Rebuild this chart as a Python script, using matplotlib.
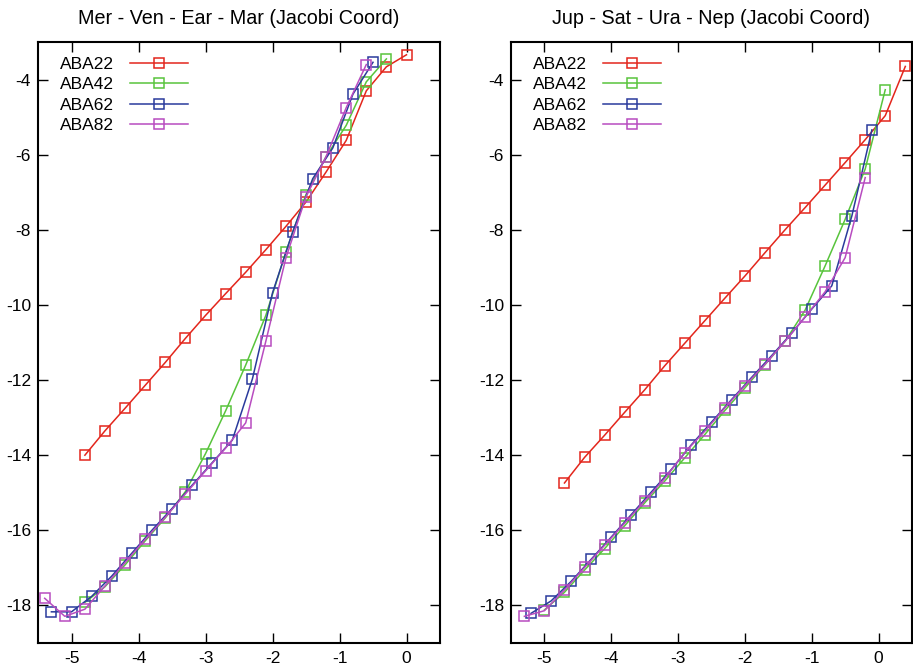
import matplotlib
matplotlib.use("Agg")
import matplotlib.pyplot as plt

plt.rcParams['font.family'] = ['Liberation Sans', 'DejaVu Sans']
plt.rcParams['axes.unicode_minus'] = False

# 左パネル: Mer - Ven - Ear - Mar
l_x22 = [-4.8, -4.5, -4.2, -3.9, -3.6, -3.3, -3.0, -2.7, -2.4, -2.1, -1.8, -1.5, -1.2, -0.9, -0.6, -0.3, 0.0]
l_y22 = [-14.0, -13.35, -12.75, -12.14, -11.53, -10.89, -10.28, -9.70, -9.13, -8.53, -7.91, -7.26, -6.46, -5.62, -4.30, -3.66, -3.34]
l_x42 = [-4.8, -4.5, -4.2, -3.9, -3.6, -3.3, -3.0, -2.7, -2.4, -2.1, -1.8, -1.5, -1.2, -0.9, -0.6, -0.3]
l_y42 = [-17.92, -17.5, -16.92, -16.28, -15.67, -14.97, -13.96, -12.82, -11.6, -10.28, -8.59, -7.06, -6.05, -5.22, -4.06, -3.45]
l_x62 = [-5.3, -5.0, -4.7, -4.4, -4.1, -3.8, -3.5, -3.2, -2.9, -2.6, -2.3, -2.0, -1.7, -1.4, -1.1, -0.8, -0.5]
l_y62 = [-18.17, -18.17, -17.76, -17.22, -16.61, -16.0, -15.42, -14.80, -14.20, -13.60, -11.97, -9.68, -8.06, -6.64, -5.82, -4.39, -3.54]
l_x82 = [-5.4, -5.1, -4.8, -4.5, -4.2, -3.9, -3.6, -3.3, -3.0, -2.7, -2.4, -2.1, -1.8, -1.5, -1.2, -0.9, -0.6]
l_y82 = [-17.81, -18.29, -18.10, -17.48, -16.86, -16.24, -15.65, -15.03, -14.42, -13.81, -13.14, -10.97, -8.75, -7.12, -6.05, -4.75, -3.6]

# 右パネル: Jup - Sat - Ura - Nep
r_x22 = [-4.7, -4.4, -4.1, -3.8, -3.5, -3.2, -2.9, -2.6, -2.3, -2.0, -1.7, -1.4, -1.1, -0.8, -0.5, -0.2, 0.1, 0.4]
r_y22 = [-14.74, -14.06, -13.47, -12.86, -12.26, -11.62, -11.02, -10.42, -9.82, -9.23, -8.61, -8.0, -7.41, -6.81, -6.21, -5.60, -4.96, -3.65]
r_x42 = [-5.0, -4.7, -4.4, -4.1, -3.8, -3.5, -3.2, -2.9, -2.6, -2.3, -2.0, -1.7, -1.4, -1.1, -0.8, -0.5, -0.2, 0.1]
r_y42 = [-18.12, -17.65, -17.06, -16.49, -15.88, -15.27, -14.69, -14.07, -13.45, -12.81, -12.21, -11.59, -10.97, -10.14, -8.96, -7.72, -6.38, -4.27]
r_x62 = [-5.2, -4.9, -4.6, -4.3, -4.0, -3.7, -3.4, -3.1, -2.8, -2.5, -2.2, -1.9, -1.6, -1.3, -1.0, -0.7, -0.4, -0.1]
r_y62 = [-18.21, -17.88, -17.36, -16.77, -16.18, -15.58, -14.98, -14.38, -13.72, -13.12, -12.52, -11.93, -11.35, -10.75, -10.11, -9.49, -7.63, -5.34]
r_x82 = [-5.3, -5.0, -4.7, -4.4, -4.1, -3.8, -3.5, -3.2, -2.9, -2.6, -2.3, -2.0, -1.7, -1.4, -1.1, -0.8, -0.5, -0.2]
r_y82 = [-18.29, -18.14, -17.59, -16.99, -16.40, -15.81, -15.22, -14.62, -13.93, -13.36, -12.74, -12.15, -11.58, -10.97, -10.32, -9.65, -8.74, -6.61]

labels = ["ABA22", "ABA42", "ABA62", "ABA82"]
colors = ["#e3261c", "#58c43c", "#2a3a9c", "#b84cc0"]
titles = ["Mer - Ven - Ear - Mar (Jacobi Coord)", "Jup - Sat - Ura - Nep (Jacobi Coord)"]

panels = [
    [(l_x22, l_y22), (l_x42, l_y42), (l_x62, l_y62), (l_x82, l_y82)],
    [(r_x22, r_y22), (r_x42, r_y42), (r_x62, r_y62), (r_x82, r_y82)],
]

fig = plt.figure(figsize=(9.13, 6.68), dpi=100)
ax_left = fig.add_axes([38 / 913, 25 / 668, 402 / 913, 601 / 668])
ax_right = fig.add_axes([511 / 913, 25 / 668, 401 / 913, 601 / 668])

for ax, series, title in zip([ax_left, ax_right], panels, titles):
    for (xs, ys), lab, c in zip(series, labels, colors):
        ax.plot(xs, ys, color=c, lw=1.1, marker="s", ms=7,
                mfc="none", mec=c, mew=1.1, label=lab)
    ax.set_xlim(-5.5, 0.5)
    ax.set_ylim(-19, -3)
    ax.set_xticks([-5, -4, -3, -2, -1, 0])
    ax.set_yticks([-18, -16, -14, -12, -10, -8, -6, -4])
    ax.tick_params(direction="in", length=7, width=1.0, top=True, right=True,
                   labelsize=12.5, colors="black")
    ax.tick_params(axis="y", pad=5)
    ax.tick_params(axis="x", pad=6)
    for sp in ax.spines.values():
        sp.set_linewidth(1.5)
    ax.set_title(title, fontsize=14.2, pad=13)
    ax.legend(loc="upper left", bbox_to_anchor=(0.055, 0.976), frameon=False,
              markerfirst=False, fontsize=12.5, handlelength=3.33,
              handletextpad=0.92, labelspacing=0.31, borderaxespad=0.0,
              borderpad=0.0)

fig.savefig("out.png", dpi=100)
